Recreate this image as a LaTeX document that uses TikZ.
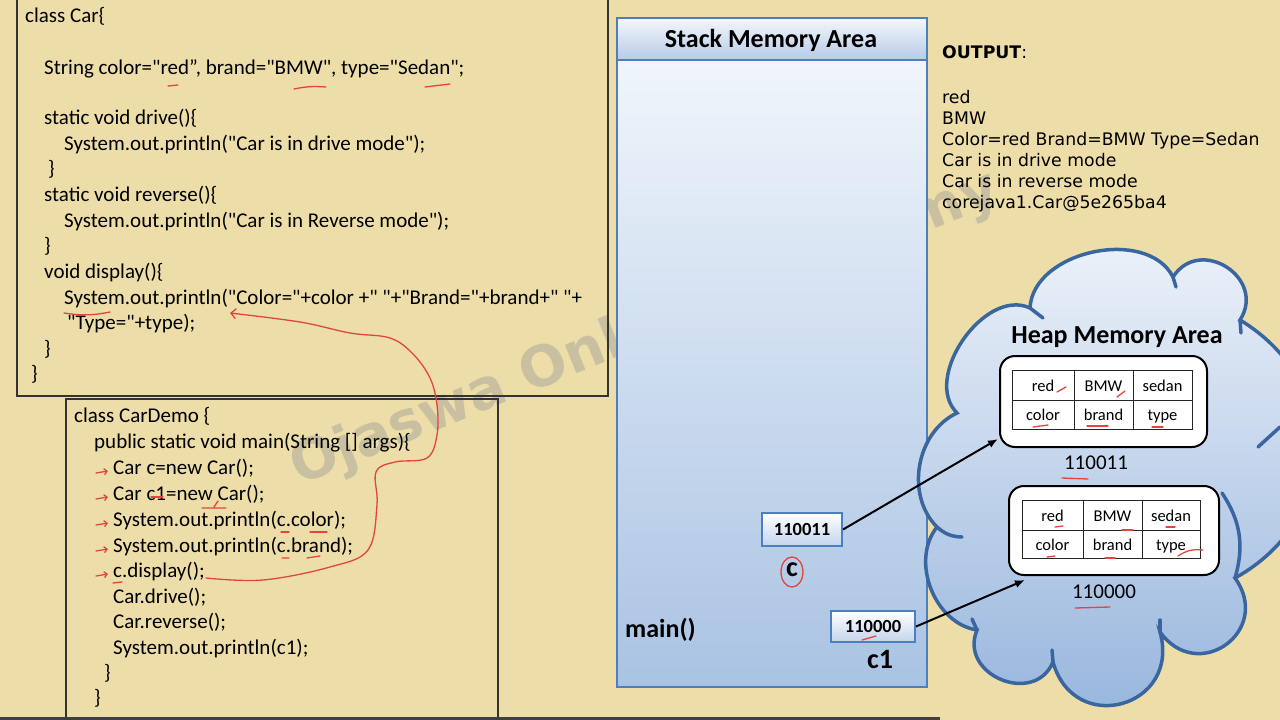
\documentclass[tikz,border=0pt]{standalone}
\usepackage{fontspec}
\setmainfont{Carlito}[Ligatures=TeXOff]
\newfontfamily\outfont{DejaVu Sans}
\usetikzlibrary{arrows.meta}
\definecolor{bgcol}{HTML}{EDDDA9}
\definecolor{stackline}{HTML}{4D7EBE}
\definecolor{stacktop}{HTML}{F0F5FB}
\definecolor{stackbot}{HTML}{A9C3E3}
\definecolor{headtop}{HTML}{F3F6FB}
\definecolor{headbot}{HTML}{B7CBE8}
\definecolor{cloudline}{HTML}{3A66A0}
\definecolor{cloudtop}{HTML}{EEF3FA}
\definecolor{cloudbot}{HTML}{94B3DC}
\definecolor{addrbot}{HTML}{C3D4EC}
\definecolor{penred}{HTML}{E2463A}
\begin{document}
\begin{tikzpicture}[x=1pt,y=-1pt,
  code/.style={anchor=base west,inner sep=0pt,font=\fontsize{21}{25}\selectfont},
  outtxt/.style={anchor=base west,inner sep=0pt,font=\outfont\fontsize{17.3}{21}\selectfont},
  codebox/.style={draw=black!80,line width=1.1pt},
  pen/.style={draw=penred,line width=1.3pt,line cap=round},
  areatitle/.style={anchor=base,inner sep=0pt,font=\bfseries\fontsize{26}{30}\selectfont},
  addr/.style={draw=stackline,line width=2pt,top color=white,bottom color=addrbot,minimum height=33pt,inner sep=0pt,font=\bfseries\fontsize{18.5}{20}\selectfont},
  cell/.style={anchor=base,inner sep=0pt,font=\fontsize{16.5}{18}\selectfont},
  objbox/.style={draw=black,line width=2pt,fill=white,rounded corners=15pt},
  heapnum/.style={anchor=base,inner sep=0pt,font=\fontsize{21}{24}\selectfont},
  cloudedge/.style={draw=cloudline,line width=3.5pt,line cap=round},
  ref/.style={draw=black,line width=2pt,-{Latex[length=10pt,width=8pt]}}
]
\useasboundingbox (0,0) rectangle (1280,720);
\fill[bgcol] (0,0) rectangle (1280,720);

% watermark
\node[rotate=22,text=gray!80,opacity=0.42,inner sep=0pt,font=\outfont\bfseries\fontsize{56}{62}\selectfont] (wm) at (645,330) {Ojaswa Online Academy};

% ---------- code box 1 ----------
\draw[codebox] (17,-5) rectangle (608,396);
\node[code] (a1) at (25,23) {class Car\{};
\node[code] (a2) at (44,74) {String color="red”, brand="BMW", type="Sedan";};
\node[code] (a3) at (44,124) {static void drive()\{};
\node[code] (a4) at (64,150) {System.out.println("Car is in drive mode");};
\node[code] (a5) at (48,175) {\}};
\node[code] (a6) at (44,201) {static void reverse()\{};
\node[code] (a7) at (64,227) {System.out.println("Car is in Reverse mode");};
\node[code] (a8) at (44,252) {\}};
\node[code] (a9) at (44,278) {void display()\{};
\node[code] (a10) at (64,304) {System.out.println("Color="+color +" "+"Brand="+brand+" "+};
\node[code] (a11) at (67,329) {"Type="+type);};
\node[code] (a12) at (44,355) {\}};
\node[code] (a13) at (31,380) {\}};

% ---------- code box 2 ----------
\draw[codebox] (66,399) rectangle (498,730);
\node[code] (b1) at (74,422) {class CarDemo \{};
\node[code] (b2) at (94,448) {public static void main(String [] args)\{};
\node[code] (b3) at (113,474) {Car c=new Car();};
\node[code] (b4) at (113,500) {Car c1=new Car();};
\node[code] (b5) at (113,526) {System.out.println(c.color);};
\node[code] (b6) at (113,552) {System.out.println(c.brand);};
\node[code] (b7) at (113,577) {c.display();};
\node[code] (b8) at (113,603) {Car.drive();};
\node[code] (b9) at (113,628) {Car.reverse();};
\node[code] (b10) at (113,654) {System.out.println(c1);};
\node[code] (b11) at (104,679) {\}};
\node[code] (b12) at (94,704) {\}};
\draw[black!75,line width=3pt] (0,718.5) -- (940,718.5);

% ---------- output ----------
\node[outtxt] (o0) at (942,58) {\textbf{OUTPUT}:};
\node[outtxt] (o1) at (942,103) {red};
\node[outtxt] (o2) at (942,124) {BMW};
\node[outtxt] (o3) at (942,145) {Color=red Brand=BMW Type=Sedan};
\node[outtxt] (o4) at (942,166) {Car is in drive mode};
\node[outtxt] (o5) at (942,187) {Car is in reverse mode};
\node[outtxt] (o6) at (942,208) {corejava1.Car@5e265ba4};

% ---------- stack ----------
\shade[top color=stacktop,bottom color=stackbot] (617,60) rectangle (927,687);
\shade[top color=headtop,bottom color=headbot] (617,18) rectangle (927,60);
\draw[stackline,line width=2pt] (617,18) rectangle (927,687) (617,60) -- (927,60);
\node[areatitle] (stitle) at (771,47) {Stack Memory Area};
\node[addr,minimum width=80pt] (s1) at (802,529.5) {110011};
\node[addr,minimum width=84pt,minimum height=31pt] (s2) at (873,626.5) {110000};
\node[inner sep=0pt,font=\bfseries\fontsize{28}{30}\selectfont] (cv) at (792,570) {c};
\node[inner sep=0pt,font=\bfseries\fontsize{28}{30}\selectfont] (c1v) at (880,660) {c1};
\node[anchor=base west,inner sep=0pt,font=\bfseries\fontsize{26}{30}\selectfont] (mainf) at (625,637) {main()};

% ---------- heap cloud ----------
\begin{scope}
\clip (0,0) rectangle (1280,720);
\draw[cloudedge,top color=cloudtop,bottom color=cloudbot]
  (957,413) to[bend left=80] (1030,308)
  to[bend left=75] (1173,277)
  to[bend left=90,looseness=1.6] (1240,320)
  to[bend left=60,looseness=1.2] (1235,578)
  to[bend left=90,looseness=1.8] (1160,632)
  to[bend left=90,looseness=1.8] (1053,662)
  to[bend left=90,looseness=1.5] (977,630)
  to[bend left=60] (937,527)
  to[bend left=55] (957,413) -- cycle;
\draw[cloudedge] (937,527) to[bend right=20] (962,537);
\draw[cloudedge] (1030,308) -- (1043,318);
\draw[cloudedge] (1173,277) -- (1176,287);
\draw[cloudedge] (1240,320) -- (1241,333);
\draw[cloudedge] (1280,427) -- (1258,447);
\draw[cloudedge] (1222,493) to[bend left=25] (1235,578);
\draw[cloudedge] (977,630) -- (972,619);
\draw[cloudedge] (1053,662) -- (1052,650);
\draw[cloudedge] (1160,632) -- (1160,620);
\end{scope}
\node[areatitle] (htitle) at (1117,343) {Heap Memory Area};

% object 1
\draw[objbox] (1000,356) rectangle (1207,447);
\coordinate (h1) at (998,439);
\draw[black!85,line width=1pt] (1012,370) rectangle (1192,429) (1012,400) -- (1192,400) (1074,370) -- (1074,429) (1133,370) -- (1133,429);
\node[cell] (t11) at (1043,391) {red};
\node[cell] (t12) at (1103.5,391) {BMW};
\node[cell] (t13) at (1162.5,391) {sedan};
\node[cell] (t14) at (1043,420) {color};
\node[cell] (t15) at (1103.5,420) {brand};
\node[cell] (t16) at (1162.5,420) {type};
\node[heapnum] (n1) at (1096,469) {110011};

% object 2
\draw[objbox] (1009,486) rectangle (1219,575);
\coordinate (h2) at (1025,580);
\draw[black!85,line width=1pt] (1022,500) rectangle (1200,558) (1022,530) -- (1200,530) (1083,500) -- (1083,558) (1142,500) -- (1142,558);
\node[cell] (t21) at (1052.5,521) {red};
\node[cell] (t22) at (1112.5,521) {BMW};
\node[cell] (t23) at (1171,521) {sedan};
\node[cell] (t24) at (1052.5,550) {color};
\node[cell] (t25) at (1112.5,550) {brand};
\node[cell] (t26) at (1171,550) {type};
\node[heapnum] (n2) at (1104,598) {110000};

% references
\draw[ref] (s1.east) -- (h1);
\draw[ref] (s2.east) -- (h2);

% ---------- red pen annotations ----------
\coordinate (pstart) at (206,578);
\coordinate (pend) at (230,313);
\draw[pen,-{Straight Barb[length=5pt,width=10pt]}] plot[smooth,tension=0.6] coordinates {(pstart) (263,580) (330,567) (368,550) (377,505) (376,472) (395,462) (427,458) (437,435) (437,405) (430,378) (413,354) (390,338) (350,333) (300,322) (pend)};
\foreach \yy in {471,497,523,549,574}
  \draw[pen,-{Straight Barb[length=3pt,width=6pt]}] (96,\yy+2) -- (108,\yy);
\draw[pen] (168,86) -- (178,85);
\draw[pen] (294,89) to[bend left=8] (326,87);
\draw[pen] (425,87) -- (450,84);
\draw[pen] (64,313) to[bend right=10] (110,312);
\draw[pen] (151,497) -- (163,497);
\draw[pen] (202,508) -- (226,508) (214,507) -- (218,501);
\draw[pen] (281,532) -- (289,532) (310,532) -- (327,532);
\draw[pen] (282,558) -- (289,558) (307,558) -- (320,556);
\draw[pen] (113,583) -- (122,582);
\draw[pen] (792,572) ellipse (11 and 15);
\draw[pen] (862,640) -- (876,636);
\draw[pen] (1057,392) -- (1066,387);
\draw[pen] (1117,397) -- (1125,391);
\draw[pen] (1033,427) -- (1048,425);
\draw[pen] (1087,426) -- (1108,426);
\draw[pen] (1152,427) -- (1163,427);
\draw[pen] (1062,478) -- (1088,479);
\draw[pen] (1055,527) -- (1063,526);
\draw[pen] (1122,530) -- (1133,530);
\draw[pen] (1166,527) -- (1175,527);
\draw[pen] (1047,557) -- (1055,556);
\draw[pen] (1105,558) -- (1115,558);
\draw[pen] (1178,556) to[bend left=20] (1203,550);
\draw[pen] (1075,608) -- (1110,607);
\end{tikzpicture}
\end{document}
